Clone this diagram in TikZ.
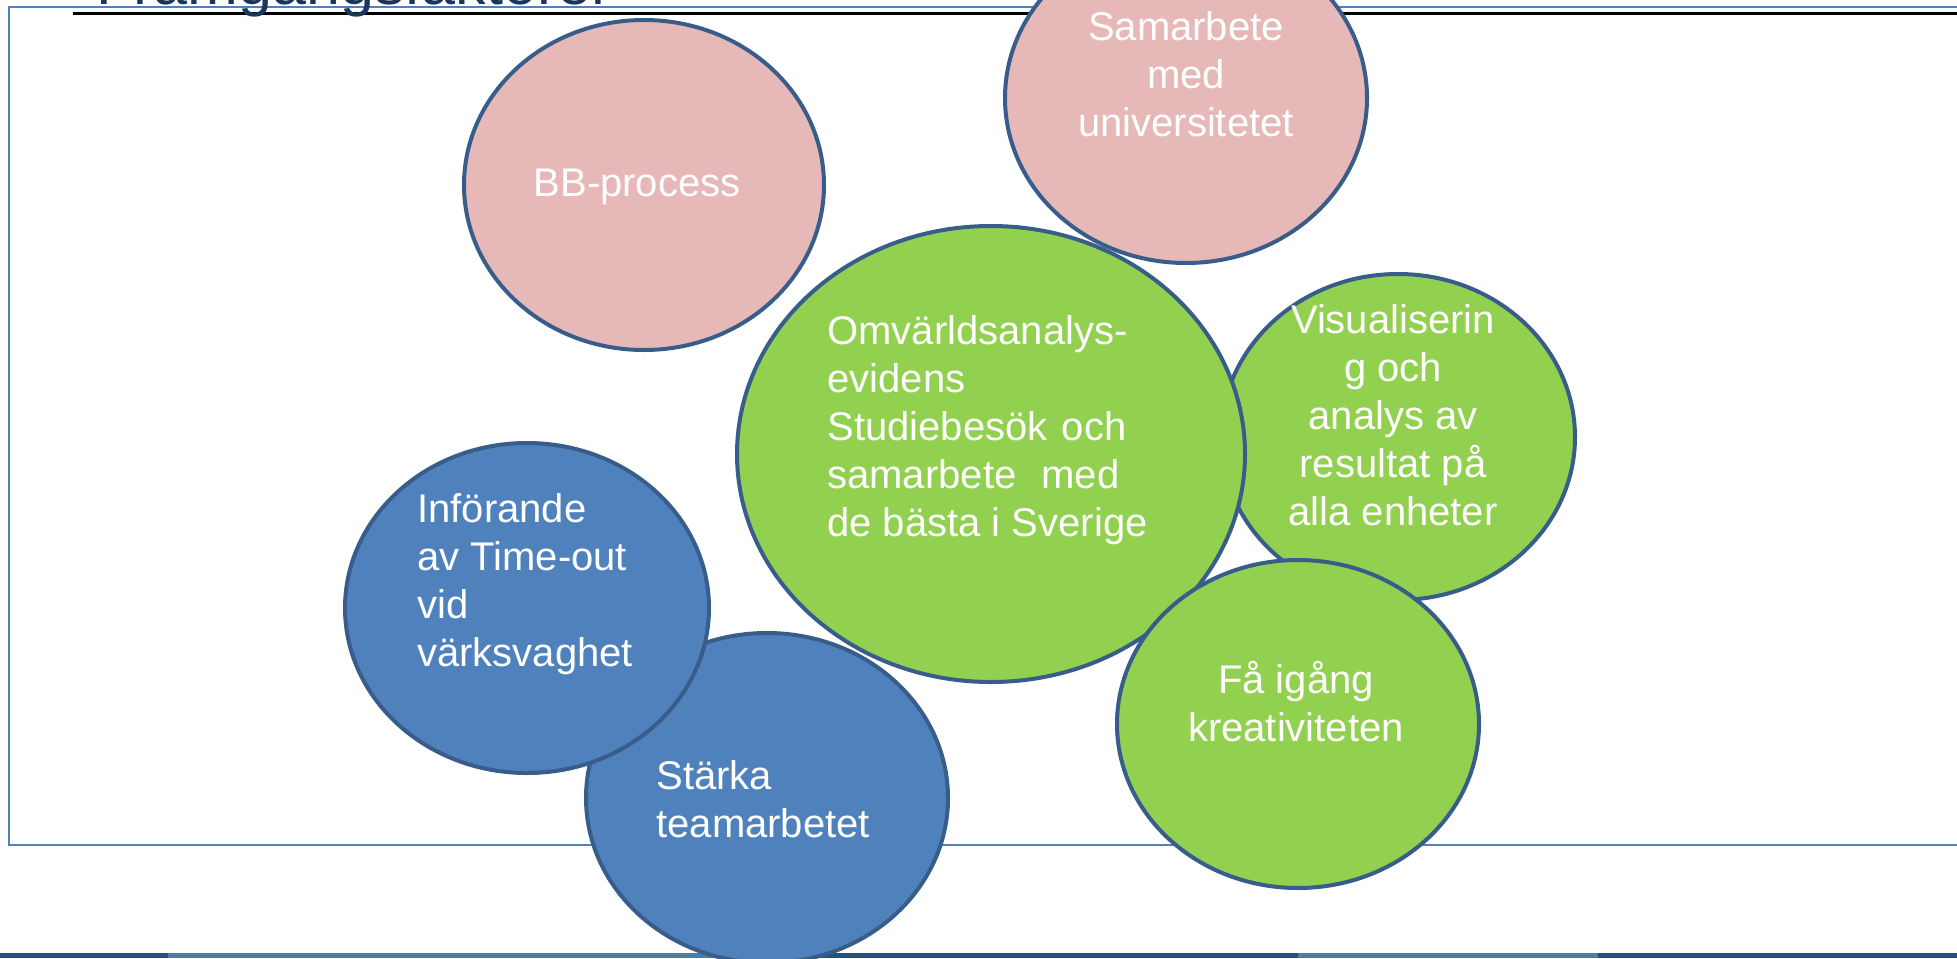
\documentclass[tikz,border=0pt]{standalone}
\usepackage{fontspec}
\setmainfont{Liberation Sans}
\usetikzlibrary{shapes.geometric}

\definecolor{bubblepink}{HTML}{E6B9B8}
\definecolor{bubblegreen}{HTML}{92D050}
\definecolor{bubbleblue}{HTML}{4F81BD}
\definecolor{bubbleedge}{HTML}{385D8A}
\definecolor{frameblue}{HTML}{4F81BD}
\definecolor{titleblue}{HTML}{17375E}
\definecolor{banddark}{HTML}{254F85}
\definecolor{bandlight}{HTML}{4A7EA6}

\tikzset{
    bubble/.style={ellipse, draw=bubbleedge, line width=2pt, inner sep=0pt},
    pinkbubble/.style={bubble, fill=bubblepink},
    greenbubble/.style={bubble, fill=bubblegreen},
    bluebubble/.style={bubble, fill=bubbleblue},
    bubbletext/.style={text=white, inner sep=0pt, font=\fontsize{20}{24}\selectfont},
}

\begin{document}
\begin{tikzpicture}[x=0.5pt, y=-0.5pt]
    \clip (0, 0) rectangle (1957, 958);
    % band at the foot of the slide
    \fill[banddark] (0, 953) rectangle (1957, 958);
    \fill[bandlight] (168, 953) rectangle (770, 958);
    \fill[bandlight] (1298, 953) rectangle (1598, 958);
    % frame and title
    \draw[frameblue, line width=1.25pt] (9, 7) rectangle (2010, 845);
    \draw[black, line width=1.5pt] (73, 13) -- (1957, 13);
    \node[anchor=base west, inner sep=0pt, text=titleblue, font=\fontsize{30.5}{36}\selectfont] (title) at (96, 4) {Framgångsfaktorer};

    % green bubbles
    \node[greenbubble, minimum width=177pt, minimum height=163pt] (visual) at (1398, 437) {};
    \node[bubbletext, align=center] (visualtext) at (1393, 415) {Visualiserin\\g och\\analys av\\resultat på\\alla enheter};
    \node[greenbubble, minimum width=254pt, minimum height=228pt] (omv) at (991, 454) {};
    \node[bubbletext, align=left, anchor=west] (omvtext) at (827, 430) {Omvärldsanalys-\\evidens\\\makebox[149.5pt][s]{Studiebesök och}\\\makebox[146pt][s]{samarbete med}\\de bästa i Sverige};

    % pink bubbles
    \node[pinkbubble, minimum width=181pt, minimum height=165pt] (univ) at (1186, 98) {};
    \node[bubbletext, align=center] (univtext) at (1186, 74) {Samarbete\\med\\universitetet};

    \node[greenbubble, minimum width=181pt, minimum height=164pt] (kreativ) at (1298, 724) {};
    \node[bubbletext, align=center] (kreativtext) at (1296, 702) {Få igång\\kreativiteten};

    \node[pinkbubble, minimum width=180pt, minimum height=165pt] (bb) at (644, 185) {};
    \node[bubbletext] (bbtext) at (637, 187) {BB-process};

    % blue bubbles
    \node[bluebubble, minimum width=181pt, minimum height=165pt] (team) at (767, 798) {};
    \node[bubbletext, align=left, anchor=west] (teamtext) at (656, 799) {Stärka\\teamarbetet};
    \node[bluebubble, minimum width=182pt, minimum height=165pt] (timeout) at (527, 608) {};
    \node[bubbletext, align=left, anchor=west] (timeouttext) at (417, 584) {Införande\\av Time-out\\vid\\värksvaghet};
\end{tikzpicture}
\end{document}
